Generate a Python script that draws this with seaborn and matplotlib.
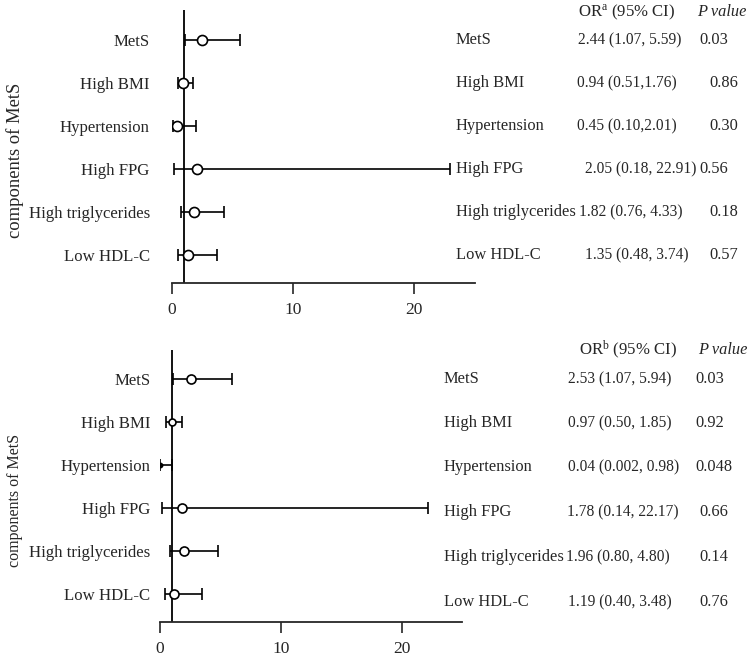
import matplotlib
matplotlib.use("Agg")
import matplotlib.pyplot as plt
import seaborn as sns
import pandas as pd

# components shown in each forest plot (top to bottom)
components = ["MetS", "High BMI", "Hypertension", "High FPG", "High triglycerides", "Low HDL-C"]

# model a (top panel)
or_a = [2.44, 0.94, 0.45, 2.05, 1.82, 1.35]
lo_a = [1.07, 0.51, 0.10, 0.18, 0.76, 0.48]
hi_a = [5.59, 1.76, 2.01, 22.91, 4.33, 3.74]
ci_text_a = ["2.44 (1.07, 5.59)", "0.94 (0.51,1.76)", "0.45 (0.10,2.01)",
             "2.05 (0.18, 22.91)", "1.82 (0.76, 4.33)", "1.35 (0.48, 3.74)"]
p_a = ["0.03", "0.86", "0.30", "0.56", "0.18", "0.57"]

# model b (bottom panel)
or_b = [2.53, 0.97, 0.04, 1.78, 1.96, 1.19]
lo_b = [1.07, 0.50, 0.002, 0.14, 0.80, 0.40]
hi_b = [5.94, 1.85, 0.98, 22.17, 4.80, 3.48]
ci_text_b = ["2.53 (1.07, 5.94)", "0.97 (0.50, 1.85)", "0.04 (0.002, 0.98)",
             "1.78 (0.14, 22.17)", "1.96 (0.80, 4.80)", "1.19 (0.40, 3.48)"]
p_b = ["0.03", "0.92", "0.048", "0.66", "0.14", "0.76"]

xticks = [0, 10, 20]

sns.set_style("ticks")
plt.rcParams["font.family"] = ["Liberation Serif", "DejaVu Serif"]
plt.rcParams["mathtext.fontset"] = "custom"
plt.rcParams["mathtext.rm"] = "Liberation Serif"
plt.rcParams["mathtext.it"] = "Liberation Serif:italic"

W, H = 749, 657
fig = plt.figure(figsize=(W / 100, H / 100), dpi=100)
fs = 12.1        # axis labels
fs_lab = 11.9    # table row labels
fs_ci = 11.2     # table OR (CI)
fs_p = 11.8      # table p values


def px(x, y):
    return x / W, 1 - y / H


def forest(rect, ors, los, his, msizes, mfill, ylim, pad, label_y, label_fs):
    ax = fig.add_axes(rect)
    df = pd.DataFrame({"comp": components, "pos": range(len(components)),
                       "OR": ors, "lo": los, "hi": his})
    ax.axvline(1, color="black", lw=1.3, zorder=1)
    ax.errorbar(df["OR"], df["pos"],
                xerr=[df["OR"] - df["lo"], df["hi"] - df["OR"]],
                fmt="none", ecolor="black", elinewidth=1.2, capsize=4.3,
                capthick=1.2, zorder=2)
    for i, r in df.iterrows():
        ax.plot(r["OR"], r["pos"], marker="o", ms=msizes[i],
                mfc="black" if mfill[i] else "white", mec="black", mew=1.2,
                zorder=3)
    ax.set_xlim(0, 25)
    ax.set_ylim(*ylim)
    ax.set_yticks(df["pos"], df["comp"])
    ax.set_xticks(xticks)
    ax.tick_params(axis="y", length=0, pad=pad, labelsize=fs)
    ax.tick_params(axis="x", length=8, width=1.2, labelsize=12.5, pad=5.5)
    for s in ["top", "right", "left"]:
        ax.spines[s].set_visible(False)
    ax.spines["bottom"].set_linewidth(1.3)
    ax.set_xlabel("")
    fig.text(*px(15, label_y), "components of MetS", rotation=90,
             ha="center", va="center", fontsize=label_fs)
    return ax


forest([172 / W, 1 - 283 / H, 303 / W, 273 / H], or_a, lo_a, hi_a,
       [7.2] * 6, [False] * 6, (5.65, -0.7), 16, 160, 13.4)
forest([160 / W, 1 - 622 / H, 302 / W, 272 / H], or_b, lo_b, hi_b,
       [6.5, 5, 3, 6.5, 6.5, 6.5], [False, False, True, False, False, False],
       (5.65, -0.67), 7, 500, 11.5)

# text tables on the right (pixel layout)
rows_a = [40, 83, 126, 169, 212, 255]
or_x_a = [578, 577, 577, 585, 579, 585]
p_x_a = [699, 709, 709, 699, 709, 709]
fig.text(*px(578, 12), r"OR$^{\mathrm{a}}$ (95% CI)", fontsize=fs, va="center")
fig.text(*px(697, 12), "P value", fontsize=fs_p, va="center", style="italic")
for i, y in enumerate(rows_a):
    fig.text(*px(456, y), components[i], fontsize=fs_lab, va="center")
    fig.text(*px(or_x_a[i], y), ci_text_a[i], fontsize=fs_ci, va="center")
    fig.text(*px(p_x_a[i], y), p_a[i], fontsize=fs_p, va="center")

rows_b = [379, 423, 467, 512, 557, 602]
or_x_b = [568, 568, 568, 567, 566, 568]
p_x_b = [695, 695, 695, 699, 699, 699]
fig.text(*px(579, 350), r"OR$^{\mathrm{b}}$ (95% CI)", fontsize=fs, va="center")
fig.text(*px(698, 350), "P value", fontsize=fs_p, va="center", style="italic")
for i, y in enumerate(rows_b):
    fig.text(*px(444, y), components[i], fontsize=fs_lab, va="center")
    fig.text(*px(or_x_b[i], y), ci_text_b[i], fontsize=fs_ci, va="center")
    fig.text(*px(p_x_b[i], y), p_b[i], fontsize=fs_p, va="center")

fig.savefig("out.png", dpi=100)
